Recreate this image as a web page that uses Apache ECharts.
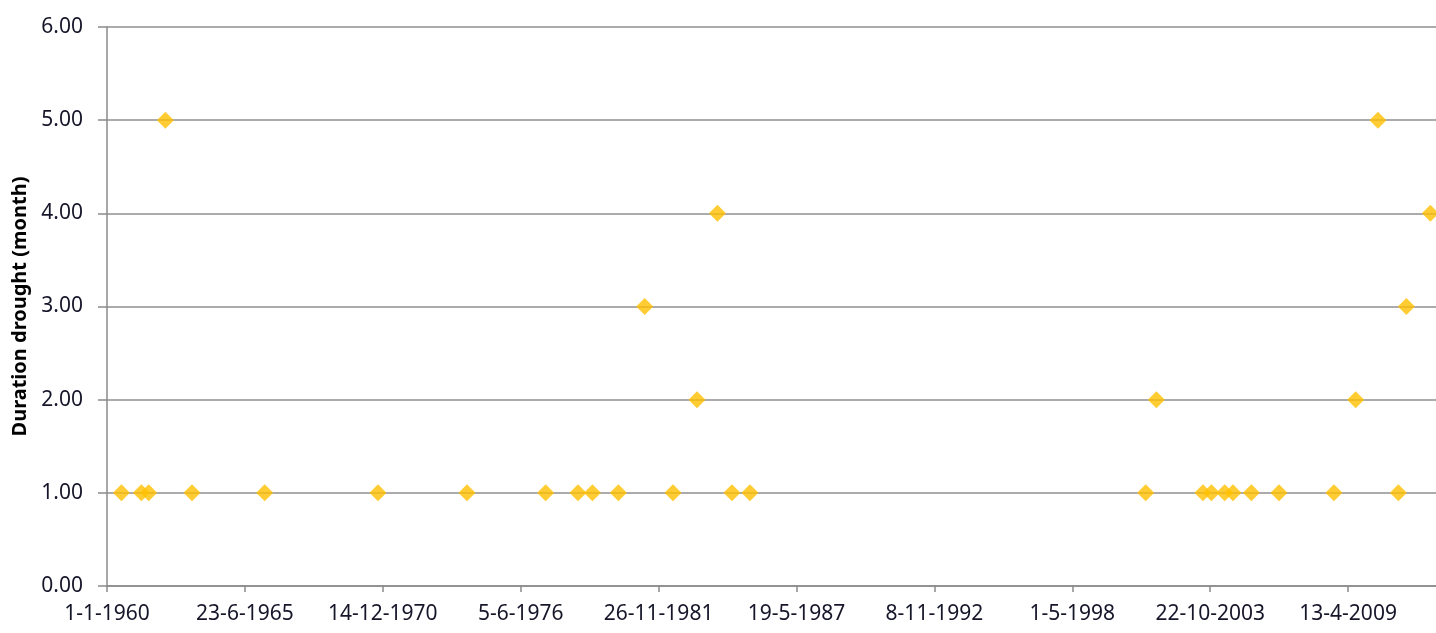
<!DOCTYPE html>
<html>
<head>
<meta charset="utf-8">
<script src="https://cdn.jsdelivr.net/npm/echarts@6/dist/echarts.min.js"></script>
<style>
html,body{margin:0;padding:0;background:#fff;}
#chart{width:1436px;height:633px;}
</style>
</head>
<body>
<div id="chart"></div>
<script>
// Drought events: start date and duration (months)
const eventDates = [
  '1960-07-28','1961-05-14','1961-08-28','1962-04-27','1963-05-18','1966-04-06',
  '1970-10-05','1974-04-18','1977-06-02','1978-09-14','1979-04-11','1980-04-22',
  '1981-05-08','1982-06-23','1983-06-06','1984-03-28','1984-10-25','1985-07-13',
  '2001-03-30','2001-09-01','2003-07-09','2003-11-08','2004-05-19','2004-09-16',
  '2005-06-10','2006-07-16','2008-09-20','2009-08-01','2010-06-20','2011-04-12',
  '2011-08-06','2012-07-19'
];
const durations = [
  1,1,1,5,1,1,
  1,1,1,1,1,1,
  3,1,2,4,1,1,
  1,2,1,1,1,1,
  1,1,1,2,5,1,
  3,4
];
const yTicks = ['0.00','1.00','2.00','3.00','4.00','5.00','6.00'];
const xOriginDate = '1960-01-01';
const xStepDays = 2000;
const xMaxDays = 20000;

const DAY = 86400000;
const origin = Date.parse(xOriginDate + 'T00:00:00Z');
function toDays(s){ return Math.round((Date.parse(s + 'T00:00:00Z') - origin) / DAY); }
function fmtDay(v){
  const d = new Date(origin + v * DAY);
  return d.getUTCDate() + '-' + (d.getUTCMonth() + 1) + '-' + d.getUTCFullYear();
}
const points = eventDates.map((s, i) => [toDays(s), durations[i]]);

const chart = echarts.init(document.getElementById('chart'), null, {renderer: 'canvas'});
const labelFont = {fontFamily: 'Noto Sans', fontSize: 21, color: '#16162a'};
chart.setOption({
  animation: false,
  backgroundColor: '#ffffff',
  grid: {left: 107, top: 27, width: 1379, height: 559, containLabel: false, outerBoundsMode: 'none'},
  xAxis: {
    type: 'value', min: 0, max: xMaxDays, interval: xStepDays,
    axisLine: {show: true, lineStyle: {color: '#8a8a8a', width: 1.5}},
    axisTick: {show: true, length: 6, lineStyle: {color: '#8a8a8a', width: 1.5}},
    splitLine: {show: false},
    axisLabel: Object.assign({margin: 18, formatter: fmtDay}, labelFont)
  },
  yAxis: {
    type: 'value', min: 0, max: 6, interval: 1,
    name: 'Duration drought (month)', nameLocation: 'middle', nameGap: 74,
    nameTextStyle: {fontFamily: 'Noto Sans', fontWeight: 'bold', fontSize: 20, color: '#000'},
    axisLine: {show: true, lineStyle: {color: '#8a8a8a', width: 1.5}},
    axisTick: {show: true, inside: false, length: 9, lineStyle: {color: '#8a8a8a', width: 1.5}},
    splitLine: {show: true, lineStyle: {color: '#8f8f8f', width: 1.5}},
    axisLabel: Object.assign({margin: 24, formatter: v => yTicks[v]}, labelFont)
  },
  series: [{
    type: 'scatter',
    data: points,
    symbol: 'diamond',
    symbolSize: 17,
    itemStyle: {color: '#FFC000'},
    clip: false
  }]
});
</script>
</body>
</html>
